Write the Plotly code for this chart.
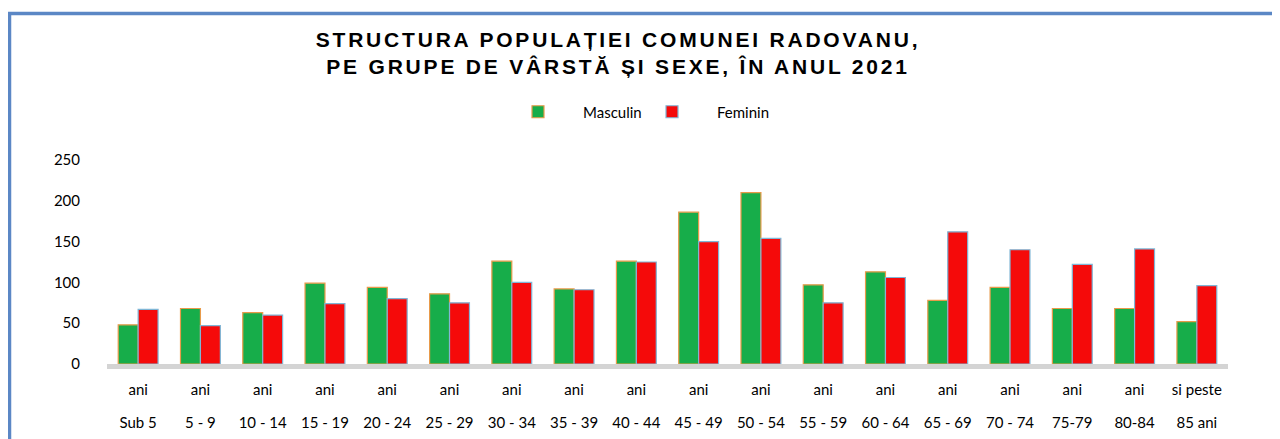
import plotly.graph_objects as go

# ---- data ----
categories = ["Sub 5", "5 - 9", "10 - 14", "15 - 19", "20 - 24", "25 - 29", "30 - 34",
              "35 - 39", "40 - 44", "45 - 49", "50 - 54", "55 - 59", "60 - 64", "65 - 69",
              "70 - 74", "75-79", "80-84", "85 ani"]
top_labels = ["ani"] * 17 + ["si peste"]
masculin = [48, 68, 63, 99, 94, 86, 126, 92, 126, 186, 210, 97, 113, 78, 94, 68, 68, 52]
feminin = [67, 47, 60, 74, 80, 75, 100, 91, 125, 150, 154, 75, 106, 162, 140, 122, 141, 96]
y_ticks = [0, 50, 100, 150, 200, 250]

title_lines = ["STRUCTURA POPULAȚIEI COMUNEI RADOVANU,",
               "PE GRUPE DE VÂRSTĂ ȘI SEXE, ÎN ANUL 2021"]

# page body has an 8px margin: figure occupies page (8..1280, 8..439)
OFF = 8
W, H = 1280 - OFF, 439 - OFF
# plot area on the page: x 107..1228, y 160..364
ml, mt = 107 - OFF, 160 - OFF
mr, mb = 1280 - 1228, 439 - 364
pw = W - ml - mr
ph = H - mt - mb
plot_bottom = H - mb


def px_y(y_page):
    return (plot_bottom - (y_page - OFF)) / ph


def px_x(x_page):
    return ((x_page - OFF) - ml) / pw


fig = go.Figure()
fig.add_trace(go.Bar(
    name="Masculin", x=categories, y=masculin,
    marker=dict(color="#17AD4A", line=dict(color="#E89A4A", width=1.2)),
))
fig.add_trace(go.Bar(
    name="Feminin", x=categories, y=feminin,
    marker=dict(color="#F50A0A", line=dict(color="#7FB6D6", width=1.2)),
))
# helper trace: gives the lower label row its categories, and an empty
# trailing legend slot so the "Feminin" label is not clipped
fig.add_trace(go.Scatter(
    x=categories, y=[0] * len(categories), xaxis="x2", mode="markers",
    marker=dict(color="rgba(0,0,0,0)", size=1, line=dict(width=0, color="rgba(0,0,0,0)")),
    name=" ", showlegend=True, hoverinfo="skip",
))

label_font = dict(family="Lato", size=15, color="#000000")

fig.update_layout(
    width=W, height=H,
    margin=dict(l=ml, r=mr, t=mt, b=mb, autoexpand=False),
    paper_bgcolor="white", plot_bgcolor="white",
    barmode="group", bargap=0.36, bargroupgap=0.0,
    title=dict(
        text="<br>".join(f'<span style="letter-spacing:2.8px">{t}</span>' for t in title_lines),
        x=(618 - OFF) / W, xanchor="center", y=1 - (47 - OFF) / H, yanchor="middle",
        font=dict(family="Liberation Sans", size=21, color="#000000", weight="bold"),
    ),
    legend=dict(
        orientation="h", x=px_x(493), xanchor="left",
        y=px_y(112), yanchor="middle",
        font=label_font, entrywidth=39, entrywidthmode="pixels", itemwidth=80,
        itemclick=False, bgcolor="rgba(0,0,0,0)", traceorder="normal",
    ),
    xaxis=dict(
        type="category", categoryarray=categories, range=[-0.5, len(categories) - 0.5],
        tickvals=categories, ticktext=top_labels, tickfont=label_font,
        showline=True, linewidth=5, linecolor="#D4D4D4", layer="below traces",
        showgrid=False, ticks="", ticklabelstandoff=8,
    ),
    xaxis2=dict(
        type="category", categoryarray=categories, range=[-0.5, len(categories) - 0.5],
        overlaying="x", side="bottom", anchor="y",
        tickvals=categories, ticktext=categories, tickfont=label_font,
        showline=False, showgrid=False, ticks="", ticklabelstandoff=48,
    ),
    yaxis=dict(
        range=[0, 250], tickvals=y_ticks, tickfont=label_font,
        showgrid=False, zeroline=False, showline=False, ticks="",
        ticklabelstandoff=26,
    ),
    shapes=[dict(
        type="rect", xref="paper", yref="paper",
        x0=px_x(9.5), x1=px_x(1300),
        y0=px_y(470), y1=px_y(13.5),
        line=dict(color="#5B87C5", width=3.5), fillcolor="rgba(0,0,0,0)", layer="below",
    )],
    showlegend=True,
)

fig.write_html("out.html")
